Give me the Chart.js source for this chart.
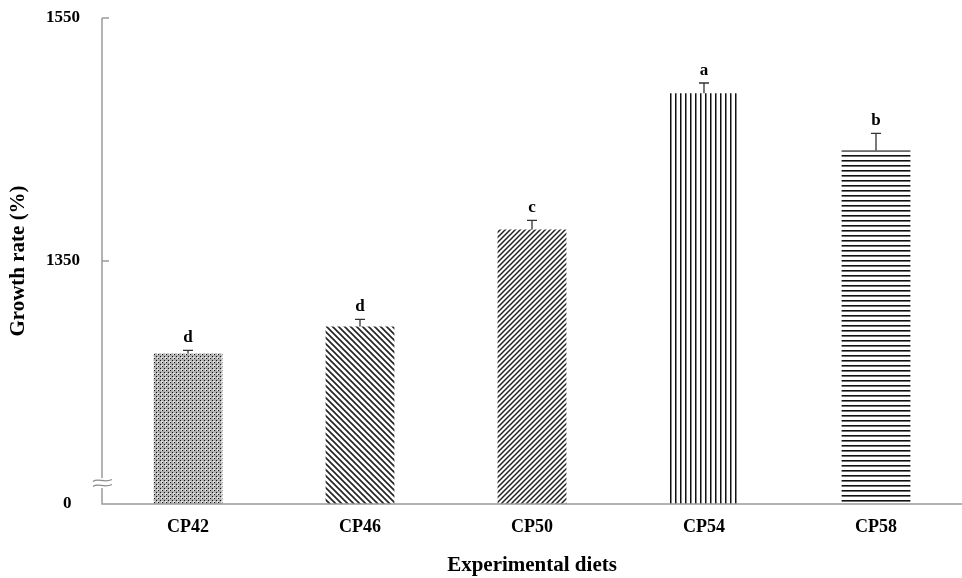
<!DOCTYPE html>
<html>
<head>
<meta charset="utf-8">
<script src="https://cdn.jsdelivr.net/npm/chart.js@4.4.1/dist/chart.umd.min.js"></script>
<style>
  html, body { margin: 0; padding: 0; background: #fff; }
  #wrap { width: 962px; height: 578px; }
</style>
</head>
<body>
<div id="wrap"><canvas id="grafico" width="962" height="578"></canvas></div>
<script>
// dados do gráfico
const dietas = ['CP42', 'CP46', 'CP50', 'CP54', 'CP58'];
const crescimento = [1274, 1296, 1376, 1488, 1441];
const erros = [2.5, 6, 7.5, 8.5, 14];
const letras = ['d', 'd', 'c', 'a', 'b'];
const ticksY = [1150, 1350, 1550];
const rotulosY = ['0', '1350', '1550'];

const fonte = '"Liberation Serif", "Times New Roman", serif';

// padrões de preenchimento das barras
function criarPadrao(w, h, desenho) {
    const c = document.createElement('canvas');
    c.width = w; c.height = h;
    const g = c.getContext('2d');
    g.fillStyle = '#fff';
    g.fillRect(0, 0, w, h);
    desenho(g, w, h);
    return document.getElementById('grafico').getContext('2d').createPattern(c, 'repeat');
}

const padroes = [
    // pontilhado
    criarPadrao(4, 4, (g) => {
        g.fillStyle = '#b0b0b0';
        g.fillRect(0, 0, 4, 4);
        g.fillStyle = '#e4e4e4';
        g.fillRect(1, 1, 2, 2);
        g.fillStyle = '#111';
        g.fillRect(0, 0, 1, 1);
        g.fillRect(2, 2, 1, 1);
    }),
    // diagonal invertida
    criarPadrao(6, 6, (g, w, h) => {
        g.strokeStyle = '#222';
        g.lineWidth = 1.6;
        g.beginPath();
        g.moveTo(-1, -1); g.lineTo(w + 1, h + 1);
        g.moveTo(-1, h - 1); g.lineTo(1, h + 1);
        g.moveTo(w - 1, -1); g.lineTo(w + 1, 1);
        g.stroke();
    }),
    // diagonal
    criarPadrao(5, 5, (g, w, h) => {
        g.strokeStyle = '#222';
        g.lineWidth = 1.5;
        g.beginPath();
        g.moveTo(-1, h + 1); g.lineTo(w + 1, -1);
        g.moveTo(-1, 1); g.lineTo(1, -1);
        g.moveTo(w - 1, h + 1); g.lineTo(w + 1, h - 1);
        g.stroke();
    }),
    // linhas verticais
    criarPadrao(5, 5, (g) => {
        g.fillStyle = '#111';
        g.fillRect(0, 0, 1.5, 5);
    }),
    // linhas horizontais
    criarPadrao(5, 5, (g) => {
        g.fillStyle = '#111';
        g.fillRect(0, 0, 5, 1.6);
    })
];

// plugin: eixos, marcas, barras de erro, letras e quebra do eixo
const pluginExtras = {
    id: 'extras',
    afterDatasetsDraw(chart) {
        const ctx = chart.ctx;
        const y = chart.scales.y;
        const x = chart.scales.x;
        const meta = chart.getDatasetMeta(0);
        ctx.save();

        // eixos
        ctx.strokeStyle = '#9a9a9a';
        ctx.lineWidth = 1.5;
        ctx.beginPath();
        ctx.moveTo(x.left, y.top);
        ctx.lineTo(x.left, y.bottom);
        ctx.lineTo(x.right, y.bottom);
        ctx.stroke();
        ticksY.slice(1).forEach(v => {
            const py = y.getPixelForValue(v);
            ctx.beginPath();
            ctx.moveTo(x.left, py);
            ctx.lineTo(x.left + 7, py);
            ctx.stroke();
        });

        // quebra do eixo
        const yq = y.bottom - 21;
        ctx.fillStyle = '#fff';
        ctx.fillRect(x.left - 3, yq - 5, 6, 10);
        ctx.strokeStyle = '#8a8a8a';
        ctx.lineWidth = 1.3;
        [-2.5, 2.5].forEach(d => {
            ctx.beginPath();
            ctx.moveTo(x.left - 9, yq + d + 1);
            ctx.bezierCurveTo(x.left - 4, yq + d - 3, x.left + 2, yq + d + 3, x.left + 10, yq + d - 1);
            ctx.stroke();
        });

        // barras de erro e letras
        ctx.strokeStyle = '#333';
        ctx.lineWidth = 1.3;
        ctx.fillStyle = '#000';
        ctx.font = 'bold 17px ' + fonte;
        ctx.textAlign = 'center';
        ctx.textBaseline = 'bottom';
        meta.data.forEach((barra, i) => {
            const topo = y.getPixelForValue(crescimento[i] + erros[i]);
            ctx.beginPath();
            ctx.moveTo(barra.x, barra.y);
            ctx.lineTo(barra.x, topo);
            ctx.moveTo(barra.x - 5, topo);
            ctx.lineTo(barra.x + 5, topo);
            ctx.stroke();
            ctx.fillText(letras[i], barra.x, topo - 4);
        });
        ctx.restore();
    }
};

new Chart(document.getElementById('grafico'), {
    type: 'bar',
    data: {
        labels: dietas,
        datasets: [{
            data: crescimento,
            backgroundColor: padroes,
            borderWidth: 0,
            barPercentage: 0.4,
            categoryPercentage: 1.0
        }]
    },
    options: {
        responsive: false,
        animation: false,
        layout: { padding: { top: 18, right: 0, left: 0, bottom: 0 } },
        plugins: {
            legend: { display: false },
            tooltip: { enabled: false }
        },
        scales: {
            x: {
                grid: { display: false, drawTicks: false },
                border: { display: false },
                ticks: {
                    color: '#000',
                    padding: 13,
                    font: { family: fonte, size: 18, weight: 'bold' }
                },
                title: {
                    display: true,
                    text: 'Experimental diets',
                    color: '#000',
                    padding: { top: 8, bottom: 0 },
                    font: { family: fonte, size: 21, weight: 'bold' }
                },
                afterFit: (s) => { s.height = 74; s.paddingLeft = 0; s.paddingRight = 0; }
            },
            y: {
                min: ticksY[0],
                max: ticksY[ticksY.length - 1],
                grid: { display: false, drawTicks: false },
                border: { display: false },
                afterBuildTicks: (s) => { s.ticks = ticksY.map(v => ({ value: v })); },
                ticks: {
                    color: '#000',
                    padding: 22,
                    font: { family: fonte, size: 17, weight: 'bold' },
                    callback: (v) => {
                        const i = ticksY.indexOf(v);
                        return i === 0 ? rotulosY[i] + '  ' : rotulosY[i];
                    }
                },
                title: {
                    display: true,
                    text: 'Growth rate (%)',
                    color: '#000',
                    padding: { top: 6, bottom: 0 },
                    font: { family: fonte, size: 21, weight: 'bold' }
                },
                afterFit: (s) => { s.width = 102; s.paddingTop = 0; s.paddingBottom = 0; }
            }
        }
    },
    plugins: [pluginExtras]
});
</script>
</body>
</html>
